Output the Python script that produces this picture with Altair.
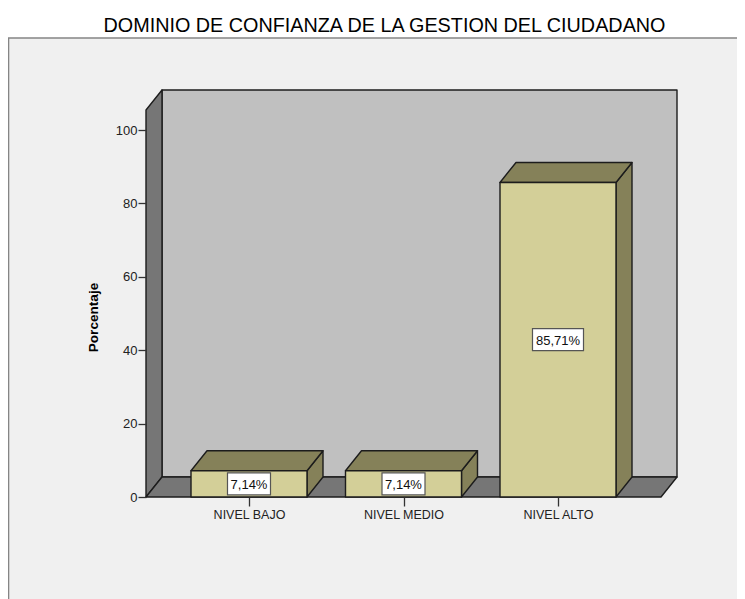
import altair as alt
import pandas as pd

# --- values ---
categories = ["NIVEL BAJO", "NIVEL MEDIO", "NIVEL ALTO"]
percentages = [7.14, 7.14, 85.71]
labels = ["7,14%", "7,14%", "85,71%"]
y_ticks = [0, 20, 40, 60, 80, 100]

# --- appearance ---
FONT = "Liberation Sans"
C_BG, C_FRAME = "#f0f0f0", "#858585"
C_BACK, C_WALL = "#c0c0c0", "#767676"
C_FRONT, C_SHADE = "#d3cf98", "#858159"
C_LINE = "#1c1c1c"
PX_PER_CAT, PX_PER_UNIT = 154.5, 3.67
PLOT_W, PLOT_H = 531, 407
DEPTH_X, DEPTH_Y = 16 / PX_PER_CAT, 20 / PX_PER_UNIT
BAR_W = 116 / PX_PER_CAT
X0 = -103 / PX_PER_CAT
X1 = X0 + PLOT_W / PX_PER_CAT
Y1 = PLOT_H / PX_PER_UNIT

x_scale = alt.Scale(domain=[X0, X1], nice=False, zero=False)
y_scale = alt.Scale(domain=[0, Y1], nice=False, zero=False)


def polys(list_of_polys):
    rows = []
    for i, pts in enumerate(list_of_polys):
        for j, (px, py) in enumerate(pts):
            rows.append({"poly": i, "seq": j, "px": px, "py": py})
    return pd.DataFrame(rows)


def face(list_of_polys, fill, first=False):
    kw = {}
    if first:
        kw["x"] = alt.X(
            "px:Q", scale=x_scale, title=None,
            axis=alt.Axis(values=[0, 1, 2], grid=False, domain=False, tickSize=9,
                          tickColor="#333333", tickWidth=1.3, labelFont=FONT, labelFontSize=12.5,
                          labelColor="#222222", labelPadding=2, zindex=1, labelFlush=False,
                          labelExpr="%s[datum.value]" % str(categories)),
        )
        kw["y"] = alt.Y(
            "py:Q", scale=y_scale, title="Porcentaje",
            axis=alt.Axis(values=y_ticks, grid=False, domain=False, tickSize=8,
                          tickColor="#333333", tickWidth=1.3, labelFont=FONT, labelFontSize=13,
                          labelColor="#222222", labelPadding=1, zindex=1,
                          titleFont=FONT, titleFontSize=13.6, titleFontWeight="bold",
                          titleColor="#000000", titleX=-46, titleY=227),
        )
    else:
        kw["x"] = alt.X("px:Q", scale=x_scale)
        kw["y"] = alt.Y("py:Q", scale=y_scale)
    return alt.Chart(polys(list_of_polys)).mark_line(
        interpolate="linear-closed", fill=fill, stroke=C_LINE, strokeWidth=1.4,
        strokeJoin="round", clip=False,
    ).encode(detail="poly:N", order="seq:Q", **kw)


back = [[(X0 + DEPTH_X, DEPTH_Y), (X1, DEPTH_Y), (X1, Y1), (X0 + DEPTH_X, Y1)]]
left = [[(X0, 0), (X0 + DEPTH_X, DEPTH_Y), (X0 + DEPTH_X, Y1), (X0, Y1 - DEPTH_Y)]]
floor = [[(X0, 0), (X1 - DEPTH_X, 0), (X1, DEPTH_Y), (X0 + DEPTH_X, DEPTH_Y)]]

fronts, tops, sides = [], [], []
for i, v in enumerate(percentages):
    a, b = i - BAR_W / 2, i + BAR_W / 2
    fronts.append([(a, 0), (b, 0), (b, v), (a, v)])
    tops.append([(a, v), (b, v), (b + DEPTH_X, v + DEPTH_Y), (a + DEPTH_X, v + DEPTH_Y)])
    sides.append([(b, 0), (b + DEPTH_X, DEPTH_Y), (b + DEPTH_X, v + DEPTH_Y), (b, v)])

frame = alt.Chart(pd.DataFrame({"a": [0]})).mark_rect(
    fill=C_BG, stroke=C_FRAME, strokeWidth=1.6
).encode(x=alt.value(-137.5), x2=alt.value(640), y=alt.value(-52), y2=alt.value(560))

HALF_H = 11 / PX_PER_UNIT
lab = pd.DataFrame({
    "c": [0, 1, 2],
    "m": [v / 2 for v in percentages],
    "t": labels,
})
lab["hw"] = [(21.5 if len(t) < 6 else 25.5) / PX_PER_CAT for t in labels]
lab["x1"] = lab["c"] - lab["hw"]
lab["x2"] = lab["c"] + lab["hw"]
lab["y1"] = lab["m"] - HALF_H
lab["y2"] = lab["m"] + HALF_H
boxes = alt.Chart(lab).mark_rect(
    fill="#ffffff", stroke="#555555", strokeWidth=1.2
).encode(
    x=alt.X("x1:Q", scale=x_scale), x2="x2:Q",
    y=alt.Y("y1:Q", scale=y_scale), y2="y2:Q",
)
texts = alt.Chart(lab).mark_text(
    font=FONT, fontSize=13, color="#111111", baseline="middle", align="center", dy=1
).encode(x=alt.X("c:Q", scale=x_scale), y=alt.Y("m:Q", scale=y_scale), text="t:N")

chart = alt.layer(
    frame,
    face(back, C_BACK, first=True),
    face(left, C_WALL),
    face(floor, C_WALL),
    face(sides, C_SHADE),
    face(tops, C_SHADE),
    face(fronts, C_FRONT),
    boxes,
    texts,
).resolve_scale(x="shared", y="shared").properties(
    width=PLOT_W,
    height=PLOT_H,
    background="#ffffff",
    padding={"left": 138, "top": 82, "right": 60, "bottom": 102},
    autosize=alt.AutoSizeParams(type="none"),
    title=alt.TitleParams(
        "DOMINIO DE CONFIANZA DE LA GESTION DEL CIUDADANO",
        font=FONT, fontSize=19.8, fontWeight="normal", color="#000000",
        anchor="middle", dx=-27, offset=1,
    ),
).configure_view(stroke=None)

chart.save("out.html", embed_options={"renderer": "svg", "actions": False})
